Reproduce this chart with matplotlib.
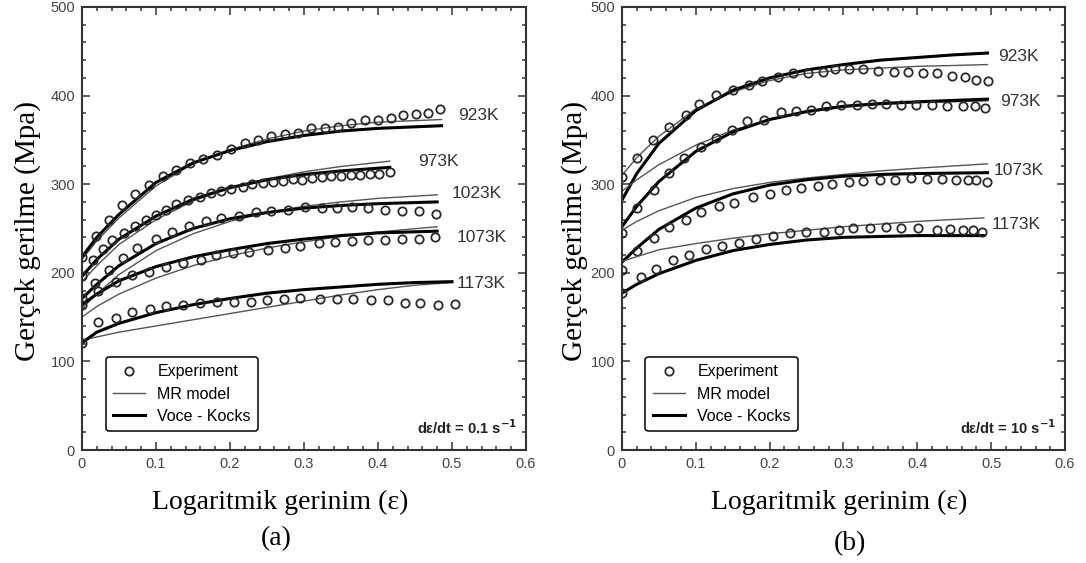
import matplotlib.pyplot as plt
from matplotlib.ticker import MultipleLocator
from matplotlib.lines import Line2D

SANS = "Liberation Sans"
SERIF = "Liberation Serif"

# ---- panel (a): de/dt = 0.1 1/s ----
A_TEMPS = ["923K", "973K", "1023K", "1073K", "1173K"]

A923_EXP_X = [0, 0.019, 0.037, 0.054, 0.072, 0.091, 0.109, 0.127, 0.146, 0.164, 0.182, 0.202, 0.220, 0.238,
              0.256, 0.274, 0.292, 0.310, 0.328, 0.346, 0.364, 0.382, 0.400, 0.418, 0.434, 0.452, 0.468, 0.484]
A923_EXP_Y = [218, 241, 260, 276, 289, 299, 309, 316, 324, 328, 333, 340, 347, 350,
              354, 357, 358, 363, 363, 365, 369, 372, 373, 375, 378, 379, 380, 385]
A973_EXP_X = [0, 0.015, 0.028, 0.041, 0.057, 0.072, 0.086, 0.100, 0.113, 0.127, 0.143, 0.159, 0.174, 0.188,
              0.201, 0.217, 0.230, 0.245, 0.258, 0.271, 0.285, 0.298, 0.311, 0.324, 0.337, 0.350, 0.363,
              0.376, 0.389, 0.402, 0.416]
A973_EXP_Y = [196, 214, 227, 237, 245, 253, 260, 265, 271, 278, 282, 286, 290, 292,
              295, 297, 300, 301, 302, 304, 306, 305, 307, 308, 309, 309, 310,
              310, 311, 312, 314]
A1023_EXP_X = [0, 0.018, 0.036, 0.055, 0.075, 0.100, 0.122, 0.145, 0.167, 0.188, 0.212, 0.235, 0.256, 0.279,
               0.301, 0.324, 0.344, 0.365, 0.387, 0.410, 0.432, 0.455, 0.478]
A1023_EXP_Y = [171, 188, 203, 217, 228, 238, 246, 253, 258, 262, 264, 269, 270, 271,
               274, 273, 273, 274, 273, 271, 270, 270, 266]
A1073_EXP_X = [0, 0.021, 0.046, 0.068, 0.091, 0.113, 0.136, 0.161, 0.181, 0.204, 0.226, 0.251, 0.274, 0.294,
               0.320, 0.342, 0.365, 0.387, 0.410, 0.432, 0.455, 0.477]
A1073_EXP_Y = [164, 180, 190, 197, 201, 207, 211, 215, 220, 222, 224, 226, 228, 230,
               234, 235, 236, 237, 237, 238, 238, 240]
A1173_EXP_X = [0, 0.021, 0.046, 0.068, 0.092, 0.113, 0.137, 0.160, 0.183, 0.205, 0.228, 0.250, 0.273, 0.295,
               0.322, 0.344, 0.366, 0.391, 0.414, 0.436, 0.457, 0.481, 0.504]
A1173_EXP_Y = [121, 144, 149, 156, 159, 162, 164, 166, 167, 167, 167, 169, 170, 171,
               170, 170, 170, 169, 169, 166, 166, 164, 165]

A923_MR = [(0, 215), (0.02, 236), (0.05, 262), (0.1, 298), (0.15, 323), (0.2, 339), (0.25, 351),
           (0.3, 360), (0.35, 366), (0.4, 370), (0.486, 373)]
A923_VK = [(0, 218), (0.02, 240), (0.05, 266), (0.1, 302), (0.15, 324), (0.2, 338), (0.25, 348),
           (0.3, 355), (0.35, 360), (0.4, 363), (0.486, 366)]
A973_MR = [(0, 190), (0.02, 208), (0.05, 232), (0.1, 260), (0.15, 281), (0.2, 296), (0.25, 306),
           (0.3, 314), (0.35, 320), (0.416, 326)]
A973_VK = [(0, 196), (0.02, 215), (0.05, 238), (0.1, 264), (0.15, 283), (0.2, 296), (0.25, 305),
           (0.3, 311), (0.35, 315), (0.416, 319)]
A1023_MR = [(0, 160), (0.02, 176), (0.05, 198), (0.1, 225), (0.15, 244), (0.2, 258), (0.25, 268),
            (0.3, 275), (0.35, 280), (0.4, 284), (0.48, 288)]
A1023_VK = [(0, 171), (0.02, 187), (0.05, 208), (0.1, 233), (0.15, 250), (0.2, 261), (0.25, 268),
            (0.3, 273), (0.35, 276), (0.4, 278), (0.48, 280)]
A1073_MR = [(0, 150), (0.02, 162), (0.05, 176), (0.1, 194), (0.15, 208), (0.2, 219), (0.25, 228),
            (0.3, 235), (0.35, 241), (0.4, 246), (0.48, 252)]
A1073_VK = [(0, 164), (0.02, 176), (0.05, 191), (0.1, 207), (0.15, 218), (0.2, 226), (0.25, 233),
            (0.3, 238), (0.35, 242), (0.4, 245), (0.48, 247)]
A1173_MR = [(0, 124), (0.05, 133), (0.1, 140), (0.15, 147), (0.2, 154), (0.25, 161), (0.3, 168),
            (0.35, 175), (0.4, 181), (0.45, 186), (0.5, 189)]
A1173_VK = [(0, 121), (0.02, 133), (0.05, 143), (0.1, 155), (0.15, 164), (0.2, 171), (0.25, 177),
            (0.3, 181), (0.35, 184), (0.4, 187), (0.45, 189), (0.5, 190)]

A_LABEL_POS = [(0.508, 378), (0.454, 326), (0.500, 290), (0.506, 240), (0.506, 188)]

# ---- panel (b): de/dt = 10 1/s ----
B_TEMPS = ["923K", "973K", "1073K", "1173K"]

B923_EXP_X = [0, 0.021, 0.042, 0.064, 0.087, 0.105, 0.127, 0.150, 0.172, 0.190, 0.211, 0.231, 0.252,
              0.272, 0.289, 0.307, 0.327, 0.347, 0.368, 0.388, 0.408, 0.426, 0.447, 0.465, 0.480, 0.496]
B923_EXP_Y = [308, 330, 350, 364, 378, 391, 401, 406, 412, 417, 421, 425, 426,
              427, 430, 430, 430, 428, 427, 427, 426, 425, 422, 421, 418, 417]
B973_EXP_X = [0, 0.021, 0.044, 0.064, 0.084, 0.107, 0.127, 0.149, 0.170, 0.193, 0.215, 0.236, 0.256,
              0.276, 0.297, 0.318, 0.338, 0.358, 0.378, 0.398, 0.420, 0.440, 0.462, 0.478, 0.492]
B973_EXP_Y = [245, 273, 294, 313, 329, 342, 352, 361, 371, 373, 381, 383, 384,
              388, 389, 389, 390, 390, 389, 389, 389, 388, 388, 388, 386]
B1073_EXP_X = [0, 0.021, 0.044, 0.064, 0.087, 0.107, 0.132, 0.152, 0.177, 0.200, 0.222, 0.242, 0.265,
               0.285, 0.307, 0.327, 0.349, 0.370, 0.392, 0.413, 0.433, 0.453, 0.469, 0.480, 0.494]
B1073_EXP_Y = [203, 225, 239, 252, 260, 269, 275, 279, 286, 289, 293, 296, 298,
               300, 303, 304, 305, 305, 307, 306, 306, 305, 305, 305, 303]
B1173_EXP_X = [0, 0.026, 0.046, 0.069, 0.091, 0.114, 0.136, 0.159, 0.182, 0.204, 0.227, 0.249, 0.274,
               0.294, 0.313, 0.336, 0.357, 0.378, 0.401, 0.426, 0.444, 0.462, 0.476, 0.488]
B1173_EXP_Y = [177, 195, 204, 214, 220, 227, 230, 234, 238, 241, 245, 246, 246,
               248, 250, 250, 252, 250, 250, 248, 249, 248, 248, 246]

B923_MR = [(0, 310), (0.02, 330), (0.05, 354), (0.1, 385), (0.15, 404), (0.2, 417), (0.25, 425),
           (0.3, 429), (0.35, 431), (0.4, 433), (0.45, 434), (0.495, 435)]
B923_VK = [(0, 282), (0.02, 312), (0.05, 346), (0.1, 383), (0.15, 406), (0.2, 420), (0.25, 429),
           (0.3, 435), (0.35, 440), (0.4, 443), (0.45, 446), (0.495, 448)]
B973_MR = [(0, 292), (0.02, 305), (0.05, 322), (0.1, 344), (0.15, 361), (0.2, 373), (0.25, 381),
           (0.3, 387), (0.35, 390), (0.4, 392), (0.495, 394)]
B973_VK = [(0, 252), (0.02, 275), (0.05, 303), (0.1, 337), (0.15, 359), (0.2, 373), (0.25, 382),
           (0.3, 388), (0.35, 391), (0.4, 393), (0.495, 396)]
B1073_MR = [(0, 248), (0.02, 258), (0.05, 270), (0.1, 285), (0.15, 295), (0.2, 302), (0.25, 307),
            (0.3, 311), (0.35, 315), (0.4, 318), (0.495, 323)]
B1073_VK = [(0, 212), (0.02, 228), (0.05, 249), (0.1, 273), (0.15, 289), (0.2, 299), (0.25, 305),
            (0.3, 309), (0.35, 311), (0.4, 312), (0.495, 313)]
B1173_MR = [(0, 213), (0.05, 226), (0.1, 233), (0.15, 239), (0.2, 244), (0.25, 248), (0.3, 252),
            (0.35, 255), (0.4, 258), (0.49, 262)]
B1173_VK = [(0, 177), (0.02, 187), (0.05, 199), (0.1, 214), (0.15, 225), (0.2, 232), (0.25, 237),
            (0.3, 240), (0.35, 241), (0.4, 242), (0.49, 242)]

B_LABEL_POS = [(0.509, 444), (0.512, 393), (0.503, 316), (0.501, 254)]


def draw_panel(ax, temps, exps, mrs, vks, label_pos, rate_text):
    for (ex, ey), mr, vk in zip(exps, mrs, vks):
        ax.plot([p[0] for p in mr], [p[1] for p in mr], color="#555555", lw=1.0)
        ax.plot([p[0] for p in vk], [p[1] for p in vk], color="black", lw=2.2)
        ax.plot(ex, ey, "o", mfc="none", mec="#2a2a2a", mew=1.3, ms=6, ls="none")
    for t, (lx, ly) in zip(temps, label_pos):
        ax.text(lx, ly, t, fontsize=12.5, family=SANS, color="#333333", va="center", ha="left")

    ax.set_xlim(0, 0.6)
    ax.set_ylim(0, 500)
    ax.xaxis.set_major_locator(MultipleLocator(0.1))
    ax.xaxis.set_minor_locator(MultipleLocator(0.02))
    ax.yaxis.set_major_locator(MultipleLocator(100))
    ax.yaxis.set_minor_locator(MultipleLocator(20))
    ax.xaxis.set_major_formatter(plt.FuncFormatter(lambda v, p: "0" if v == 0 else ("%.1f" % v)))
    ax.tick_params(which="both", direction="in", top=True, right=True, colors="#333333",
                   labelcolor="#444444", labelsize=10.5, width=1.1)
    ax.tick_params(which="major", length=6, pad=5)
    ax.tick_params(which="minor", length=3)
    for lab in ax.get_xticklabels() + ax.get_yticklabels():
        lab.set_family(SANS)
    for s in ax.spines.values():
        s.set_linewidth(1.5)
        s.set_color("#333333")

    handles = [Line2D([], [], marker="o", mfc="none", mec="#2a2a2a", mew=1.3, ms=6, ls="none"),
               Line2D([], [], color="#555555", lw=1.0),
               Line2D([], [], color="black", lw=2.2)]
    leg = ax.legend(handles, ["Experiment", "MR model", "Voce - Kocks"], loc="lower left",
                    bbox_to_anchor=(0.035, 0.025), prop={"family": SANS, "size": 11.5},
                    frameon=True, fancybox=True, edgecolor="black", framealpha=1,
                    handlelength=2.0, labelspacing=0.45, borderpad=0.45, handletextpad=0.8)
    leg.get_frame().set_linewidth(1.1)
    ax.text(0.98, 0.05, rate_text, transform=ax.transAxes, ha="right", va="center",
            fontsize=10.5, family=SANS, weight="bold", color="#222222")


fig = plt.figure(figsize=(10.86, 5.63), dpi=100)
ax1 = fig.add_axes([0.0755, 0.2007, 0.4088, 0.7869])
ax2 = fig.add_axes([0.5727, 0.2007, 0.4080, 0.7869])

draw_panel(ax1, A_TEMPS,
           [(A923_EXP_X, A923_EXP_Y), (A973_EXP_X, A973_EXP_Y), (A1023_EXP_X, A1023_EXP_Y),
            (A1073_EXP_X, A1073_EXP_Y), (A1173_EXP_X, A1173_EXP_Y)],
           [A923_MR, A973_MR, A1023_MR, A1073_MR, A1173_MR],
           [A923_VK, A973_VK, A1023_VK, A1073_VK, A1173_VK],
           A_LABEL_POS, "dε/dt = 0.1 s$^{\\mathbf{-1}}$")
draw_panel(ax2, B_TEMPS,
           [(B923_EXP_X, B923_EXP_Y), (B973_EXP_X, B973_EXP_Y), (B1073_EXP_X, B1073_EXP_Y),
            (B1173_EXP_X, B1173_EXP_Y)],
           [B923_MR, B973_MR, B1073_MR, B1173_MR],
           [B923_VK, B973_VK, B1073_VK, B1173_VK],
           B_LABEL_POS, "dε/dt = 10 s$^{\\mathbf{-1}}$")

fig.text(0.025, 0.59, "Gerçek gerilme (Mpa)", rotation=90, ha="center", va="center",
         fontsize=21, family=SERIF)
fig.text(0.529, 0.59, "Gerçek gerilme (Mpa)", rotation=90, ha="center", va="center",
         fontsize=21, family=SERIF)
fig.text(0.258, 0.108, "Logaritmik gerinim (ε)", ha="center", va="center", fontsize=20, family=SERIF)
fig.text(0.773, 0.108, "Logaritmik gerinim (ε)", ha="center", va="center", fontsize=20, family=SERIF)
fig.text(0.254, 0.044, "(a)", ha="center", va="center", fontsize=20, family=SERIF)
fig.text(0.783, 0.035, "(b)", ha="center", va="center", fontsize=20, family=SERIF)

plt.savefig("out.png", dpi=100)
